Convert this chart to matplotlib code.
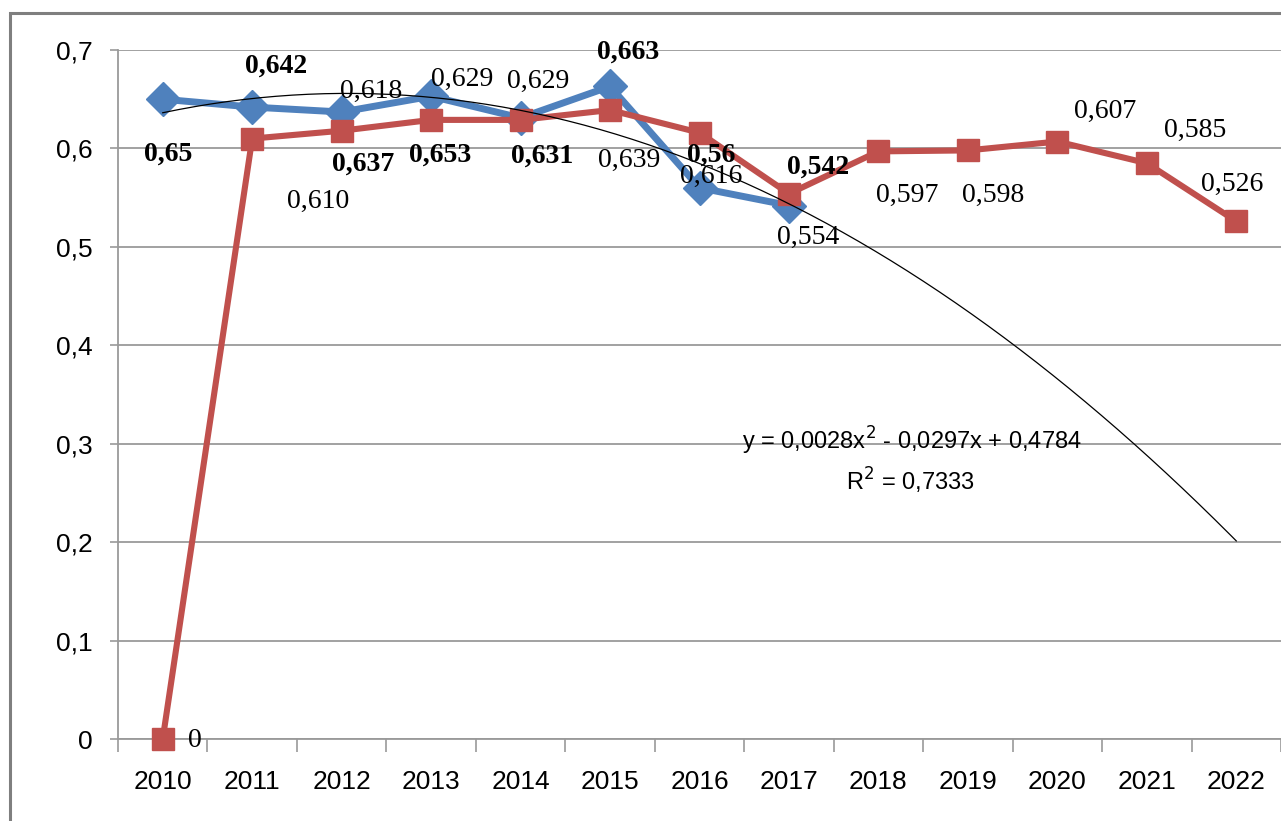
import numpy as np
import matplotlib
matplotlib.use("Agg")
import matplotlib.pyplot as plt
from matplotlib.patches import Rectangle

years = [str(y) for y in range(2010, 2023)]
blue_vals = [0.65, 0.642, 0.637, 0.653, 0.631, 0.663, 0.56, 0.542]
red_vals = [0, 0.610, 0.618, 0.629, 0.629, 0.639, 0.616, 0.554, 0.597, 0.598, 0.607, 0.585, 0.526]
yticks = [0, 0.1, 0.2, 0.3, 0.4, 0.5, 0.6, 0.7]
eq_text = "y = 0,0028x$^2$ - 0,0297x + 0,4784"
r2_text = "R$^2$ = 0,7333"

# label offsets in pixels (dx, dy)
blue_off = [(5, -55), (24, 41), (21, -52), (9, -59), (22, -38), (18, 34), (12, 33), (29, 38)]
red_off = [(32, -1), (66, -63), (29, 39), (31, 40), (18, 38), (19, -50), (12, -44), (19, -44),
           (29, -44), (25, -45), (48, 30), (48, 33), (-4, 37)]

BLUE = "#4F81BD"
RED = "#C0504D"
GRID = "#9a9a9a"
sans = ["Liberation Sans Narrow", "Liberation Sans", "DejaVu Sans"]
serif = ["Liberation Serif", "DejaVu Serif"]

fig = plt.figure(figsize=(12.81, 8.21), dpi=100)
ax = fig.add_axes([118 / 1281, 82 / 821, 1 - 118 / 1281, (739 - 50) / 821])

xb = np.arange(len(blue_vals))
xr = np.arange(len(red_vals))

ax.plot(xb, blue_vals, color=BLUE, lw=5, marker="D", ms=17, zorder=3, clip_on=False)
ax.plot(xr, red_vals, color=RED, lw=4.4, marker="s", ms=16.5, zorder=4, clip_on=False)

# quadratic trend on the blue series, extended to 2022
coef = np.polyfit(xb + 1, blue_vals, 2)
xt = np.linspace(1, len(years), 200)
ax.plot(xt - 1, np.polyval(coef, xt), color="black", lw=0.9, zorder=5)

for i, v in enumerate(blue_vals):
    ax.annotate(str(v).replace(".", ","), (i, v), xytext=blue_off[i], textcoords="offset pixels",
                ha="center", va="center", fontsize=20, fontweight="bold", family=serif, zorder=6)
for i, v in enumerate(red_vals):
    txt = "0" if v == 0 else f"{v:.3f}".replace(".", ",")
    ax.annotate(txt, (i, v), xytext=red_off[i], textcoords="offset pixels",
                ha="center", va="center", fontsize=20, family=serif, zorder=6)

ax.text(0.683, 0.432, eq_text, transform=ax.transAxes, ha="center", va="center",
        fontsize=17, family=sans)
ax.text(0.681, 0.375, r2_text, transform=ax.transAxes, ha="center", va="center",
        fontsize=17, family=sans)

ax.set_xlim(-0.5, len(years) - 0.5)
ax.set_ylim(0, 0.7)
ax.set_yticks(yticks)
ax.set_yticklabels([("%g" % t).replace(".", ",") for t in yticks], family=sans, fontsize=19)
ax.set_xticks(xr)
ax.set_xticklabels(years, family=sans, fontsize=19)
ax.set_xticks(np.arange(-0.5, len(years)), minor=True)
ax.tick_params(axis="x", which="major", length=0, pad=22)
ax.tick_params(axis="x", which="minor", length=9, color=GRID, width=1.2)
ax.tick_params(axis="y", length=6, color=GRID, width=1.2, pad=12)
ax.grid(axis="y", color=GRID, lw=1.3)
ax.set_axisbelow(True)
for s in ["top", "right"]:
    ax.spines[s].set_visible(False)
for s in ["left", "bottom"]:
    ax.spines[s].set_color(GRID)
    ax.spines[s].set_linewidth(1.3)

fig.patches.append(Rectangle((10 / 1281, -0.05), 1.1, (821 - 13) / 821 + 0.05, transform=fig.transFigure,
                             fill=False, edgecolor="#7f7f7f", lw=2.2))

fig.savefig("out.png", dpi=100)
